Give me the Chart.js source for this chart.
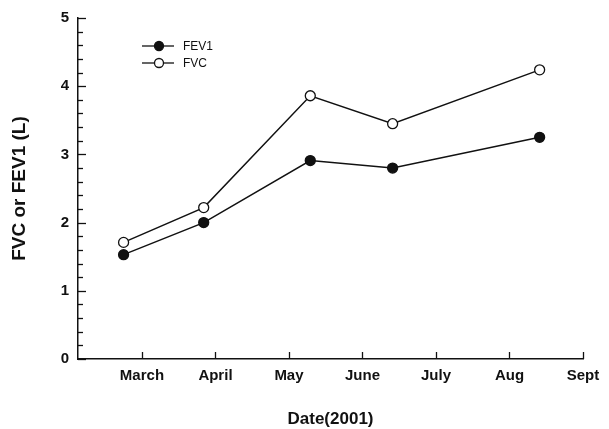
<!DOCTYPE html>
<html>
<head>
<meta charset="utf-8">
<script src="https://cdn.jsdelivr.net/npm/chart.js@4"></script>
<style>
html,body{margin:0;padding:0;background:#fff;}
#wrap{width:609px;height:429px;position:relative;}
</style>
</head>
<body>
<div id="wrap"><canvas id="c" width="609" height="429"></canvas></div>
<script>
// Month tick positions (month number) and labels
const monthValues = [3, 4, 5, 6, 7, 8, 9];
const monthLabels = ['March', 'April', 'May', 'June', 'July', 'Aug', 'Sept'];
// Measurement dates (as fractional month number)
const sampleDates = [2.75, 3.84, 5.29, 6.41, 8.41];
// Series values (L)
const fev1 = [1.53, 2.00, 2.91, 2.80, 3.25];
const fvc = [1.71, 2.22, 3.86, 3.45, 4.24];
const yTicks = [0, 1, 2, 3, 4, 5];

const INK = '#111';
const toXY = (xs, ys) => xs.map((x, i) => ({x: x, y: ys[i]}));

const innerTicks = {
  id: 'innerTicks',
  afterDraw(chart) {
    const ctx = chart.ctx;
    const xs = chart.scales.x, ys = chart.scales.y;
    const a = chart.chartArea;
    ctx.save();
    ctx.strokeStyle = INK;
    ctx.lineWidth = 1.3;
    // y ticks: major every 1, minor every 0.2
    for (let i = 0; i <= 25; i++) {
      const v = i * 0.2;
      const py = Math.round(ys.getPixelForValue(v)) + 0.5;
      const len = (i % 5 === 0) ? 8 : 5;
      ctx.beginPath();
      ctx.moveTo(a.left, py);
      ctx.lineTo(a.left + len, py);
      ctx.stroke();
    }
    // x ticks
    monthValues.forEach(v => {
      const px = Math.round(xs.getPixelForValue(v)) + 0.5;
      ctx.beginPath();
      ctx.moveTo(px, a.bottom);
      ctx.lineTo(px, a.bottom - 7);
      ctx.stroke();
    });
    // legend
    const items = chart.data.datasets;
    const lx0 = 142, lx1 = 174, mx = 159, tx = 183;
    const ly = [46, 63];
    ctx.font = '12px "Liberation Sans", Arial, sans-serif';
    ctx.textBaseline = 'middle';
    ctx.textAlign = 'left';
    items.forEach((ds, i) => {
      const y = ly[i];
      ctx.strokeStyle = INK;
      ctx.lineWidth = 1.3;
      ctx.beginPath();
      ctx.moveTo(lx0, y);
      ctx.lineTo(lx1, y);
      ctx.stroke();
      ctx.beginPath();
      ctx.arc(mx, y, 4.5, 0, Math.PI * 2);
      ctx.fillStyle = ds.pointBackgroundColor;
      ctx.fill();
      ctx.stroke();
      ctx.fillStyle = INK;
      ctx.fillText(ds.label, tx, y + 1);
    });
    ctx.restore();
  }
};

new Chart(document.getElementById('c'), {
  type: 'line',
  data: {
    datasets: [
      {
        label: 'FEV1',
        data: toXY(sampleDates, fev1),
        borderColor: INK,
        borderWidth: 1.5,
        pointRadius: 5,
        pointBackgroundColor: INK,
        pointBorderColor: INK,
        pointBorderWidth: 1.3,
        tension: 0
      },
      {
        label: 'FVC',
        data: toXY(sampleDates, fvc),
        borderColor: INK,
        borderWidth: 1.5,
        pointRadius: 5,
        pointBackgroundColor: '#fff',
        pointBorderColor: INK,
        pointBorderWidth: 1.3,
        tension: 0
      }
    ]
  },
  options: {
    responsive: false,
    animation: false,
    devicePixelRatio: 1,
    layout: {padding: {top: 16, right: 26, left: 0, bottom: 0}},
    plugins: {legend: {display: false}, tooltip: {enabled: false}},
    scales: {
      x: {
        type: 'linear',
        min: 2.13,
        max: 9,
        afterFit(s) { s.height = 70; },
        afterBuildTicks(s) { s.ticks = monthValues.map(v => ({value: v})); },
        grid: {display: false, drawTicks: false},
        border: {display: true, color: INK, width: 1.5},
        ticks: {
          padding: 8,
          color: INK,
          font: {family: '"Liberation Sans", Arial, sans-serif', size: 15, weight: 'bold'},
          maxRotation: 0,
          autoSkip: false,
          callback: (v) => monthLabels[monthValues.indexOf(v)] ?? ''
        },
        title: {
          display: true,
          text: 'Date(2001)',
          color: INK,
          padding: {top: 0, bottom: -1},
          font: {family: '"Liberation Sans", Arial, sans-serif', size: 17, weight: 'bold'}
        }
      },
      y: {
        type: 'linear',
        min: 0,
        max: 5,
        afterFit(s) { s.width = 78; },
        afterBuildTicks(s) { s.ticks = yTicks.map(v => ({value: v})); },
        grid: {display: false, drawTicks: false},
        border: {display: true, color: INK, width: 1.5},
        ticks: {
          padding: 9,
          color: INK,
          font: {family: '"Liberation Sans", Arial, sans-serif', size: 15, weight: 'bold'},
          callback: (v) => String(v)
        },
        title: {
          display: true,
          text: 'FVC or FEV1 (L)',
          color: INK,
          padding: {top: 8, bottom: 0},
          font: {family: '"Liberation Sans", Arial, sans-serif', size: 19, weight: 'bold'}
        }
      }
    }
  },
  plugins: [innerTicks]
});
</script>
</body>
</html>
